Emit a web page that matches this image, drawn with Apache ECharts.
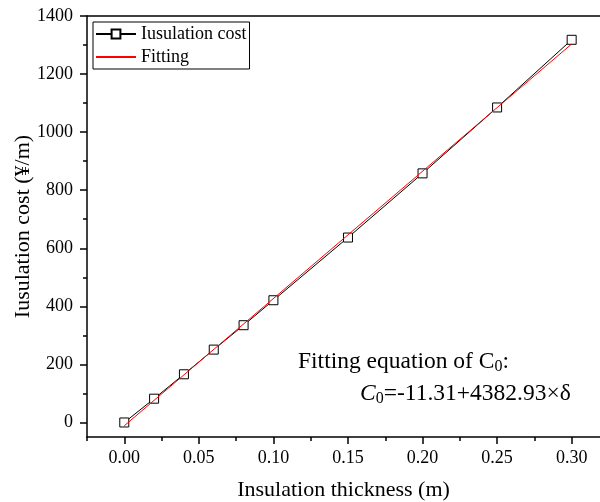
<!DOCTYPE html>
<html>
<head>
<meta charset="utf-8">
<script src="https://cdn.jsdelivr.net/npm/echarts@6/dist/echarts.min.js"></script>
<style>
  html, body { margin: 0; padding: 0; background: #fff; }
  #main { width: 600px; height: 502px; }
</style>
</head>
<body>
<div id="main"></div>
<script>
// data
var thickness = [0, 0.02, 0.04, 0.06, 0.08, 0.10, 0.15, 0.20, 0.25, 0.30];
var cost = [0, 82, 166, 251, 335, 421, 637, 858, 1085, 1318];
// fitted line C0 = -11.31 + 4382.93*d, end points
var fitX = [0, 0.30];
var fitY = [-11.31, 1303.57];

var xTicks = [0, 0.05, 0.10, 0.15, 0.20, 0.25, 0.30];
var xMinorTicks = [-0.025, 0.025, 0.075, 0.125, 0.175, 0.225, 0.275];
var yTicks = [0, 200, 400, 600, 800, 1000, 1200, 1400];
var yMinorTicks = [100, 300, 500, 700, 900, 1100, 1300];

var font = 'Liberation Serif';

var costData = thickness.map(function (x, i) { return [x, cost[i]]; });
var fitData = fitX.map(function (x, i) { return [x, fitY[i]]; });

var myChart = echarts.init(document.getElementById('main'));

var option = {
    animation: false,
    backgroundColor: '#fff',
    grid: { left: 87, right: 0, top: 16, bottom: 65, containLabel: false, outerBoundsMode: 'none' },
    legend: {
        orient: 'vertical',
        left: 93,
        top: 22,
        padding: [3, 3, 3, 2],
        itemWidth: 40,
        itemHeight: 11,
        itemGap: 5,
        borderColor: '#000',
        borderWidth: 1,
        borderRadius: 0,
        textStyle: { fontFamily: font, fontSize: 18, color: '#000' },
        data: [
            { name: 'Iusulation cost' },
            { name: 'Fitting', itemStyle: { opacity: 0 } }
        ]
    },
    xAxis: [{
        type: 'value',
        min: -0.025,
        max: 0.319,
        position: 'bottom',
        name: 'Insulation thickness (m)',
        nameLocation: 'middle',
        nameGap: 42,
        nameTextStyle: { fontFamily: font, fontSize: 22, color: '#000' },
        axisLine: { show: true, onZero: false, lineStyle: { color: '#000', width: 1.5 } },
        axisTick: { show: true, length: 7, customValues: xTicks, lineStyle: { color: '#000', width: 1.5 } },
        axisLabel: {
            customValues: xTicks, margin: 12,
            fontFamily: font, fontSize: 18, color: '#000',
            formatter: function (v) { return v.toFixed(2); }
        },
        splitLine: { show: false }
    }, {
        type: 'value',
        min: -0.025,
        max: 0.319,
        position: 'bottom',
        axisLine: { show: false, onZero: false },
        axisTick: { show: true, length: 4, customValues: xMinorTicks, lineStyle: { color: '#000', width: 1.5 } },
        axisLabel: { show: false },
        splitLine: { show: false }
    }, {
        type: 'value',
        min: -0.025,
        max: 0.319,
        position: 'top',
        axisLine: { show: true, onZero: false, lineStyle: { color: '#000', width: 1.5 } },
        axisTick: { show: false },
        axisLabel: { show: false },
        splitLine: { show: false }
    }],
    yAxis: [{
        type: 'value',
        min: -50,
        max: 1400,
        position: 'left',
        name: 'Iusulation cost (\u00a5/m)',
        nameLocation: 'middle',
        nameGap: 53,
        nameMoveOverlap: false,
        nameTextStyle: { fontFamily: font, fontSize: 22, color: '#000' },
        axisLine: { show: true, onZero: false, lineStyle: { color: '#000', width: 1.5 } },
        axisTick: { show: true, length: 7, customValues: yTicks, lineStyle: { color: '#000', width: 1.5 } },
        axisLabel: {
            customValues: yTicks, margin: 14, fontFamily: font, fontSize: 18, color: '#000',
            formatter: function (v) { return String(v); }
        },
        splitLine: { show: false }
    }, {
        type: 'value',
        min: -50,
        max: 1400,
        position: 'left',
        axisLine: { show: false, onZero: false },
        axisTick: { show: true, length: 4, customValues: yMinorTicks, lineStyle: { color: '#000', width: 1.5 } },
        axisLabel: { show: false },
        splitLine: { show: false }
    }],
    series: [{
        name: 'Iusulation cost',
        type: 'line',
        xAxisIndex: 0,
        yAxisIndex: 0,
        data: costData,
        symbol: 'rect',
        symbolSize: 9,
        showAllSymbol: true,
        lineStyle: { color: '#000', width: 1 },
        itemStyle: { color: '#fff', borderColor: '#000', borderWidth: 1 },
        z: 2
    }, {
        name: 'Fitting',
        type: 'line',
        xAxisIndex: 0,
        yAxisIndex: 0,
        data: fitData,
        symbol: 'none',
        lineStyle: { color: '#ff0000', width: 1 },
        itemStyle: { color: '#ff0000' },
        z: 3
    }],
    graphic: [{
        type: 'text',
        left: 298,
        top: 350,
        style: {
            text: 'Fitting equation of C{sub|0}:',
            font: '23.5px "Liberation Serif"',
            fill: '#000',
            rich: {
                sub: { fontFamily: font, fontSize: 16, padding: [9, 0, 0, 0], fill: '#000' }
            }
        }
    }, {
        type: 'text',
        left: 360,
        top: 382,
        style: {
            text: '{i|C}{sub|0}=-11.31+4382.93\u00d7\u03b4',
            font: '23.5px "Liberation Serif"',
            fill: '#000',
            rich: {
                i: { fontFamily: font, fontSize: 23.5, fontStyle: 'italic', fill: '#000' },
                sub: { fontFamily: font, fontSize: 16, padding: [9, 0, 0, 0], fill: '#000' }
            }
        }
    }]
};

myChart.setOption(option);
</script>
</body>
</html>
